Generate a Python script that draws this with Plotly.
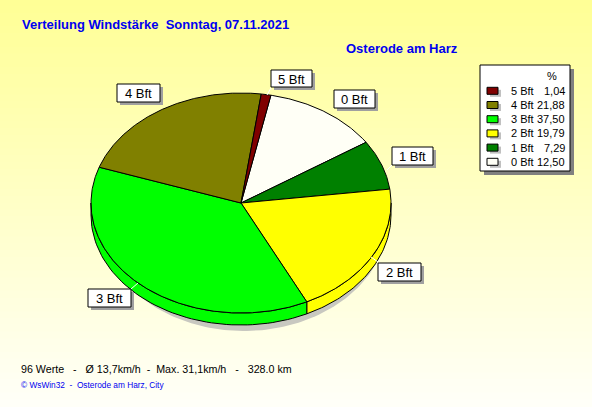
import numpy as np
import plotly.graph_objects as go

# ---- data ----
categories = ["0 Bft", "1 Bft", "2 Bft", "3 Bft", "4 Bft", "5 Bft"]
percent = [12.50, 7.29, 19.79, 37.50, 21.88, 1.04]
colors = ["#FFFFF6", "#008000", "#FFFF00", "#00FF00", "#808000", "#800000"]
title_text = "Verteilung Windstärke  Sonntag, 07.11.2021"
location = "Osterode am Harz"
stats_text = "96 Werte   -   Ø 13,7km/h  -  Max. 31,1km/h   -   328.0 km"
credit_text = "© WsWin32  -  Osterode am Harz, City"

W, H = 592, 407
CX, CY, RX, RY, DEPTH = 241, 203, 150, 110, 12
START = 78.5  # degrees, slices run clockwise

fig = go.Figure()

# background gradient (yellow -> near white)
shapes = []
n_bands = 60
for i in range(n_bands):
    f = i / (n_bands - 1)
    b = int(150 + (248 - 150) * f)
    shapes.append(dict(type="rect", xref="paper", yref="paper",
                       x0=0, x1=1, y0=1 - (i + 1) / n_bands, y1=1 - i / n_bands + 0.002,
                       fillcolor=f"rgb(255,255,{b})", line=dict(width=0), layer="below"))


def ell(t_deg, dy=0.0, rx=RX, ry=RY, cx=CX, cy=CY):
    t = np.radians(t_deg)
    return cx + rx * np.cos(t), cy - ry * np.sin(t) + dy


# shadow
tt = np.linspace(0, 360, 240)
sx, sy = ell(tt, cx=CX + 3, cy=CY + DEPTH + 4, rx=RX - 6, ry=RY + 2)
fig.add_trace(go.Scatter(x=sx, y=sy, fill="toself", fillcolor="#C8C8C0",
                         line=dict(width=0), mode="lines", hoverinfo="skip", showlegend=False))

# slice angles
bounds = []
a = START
for v in percent:
    a1 = a - 360.0 * v / 100.0
    bounds.append((a1, a))
    a = a1

# sides (front half: 180..360 deg)
for (lo, hi), col in zip(bounds, colors):
    for k in range(-2, 2):
        flo, fhi = 180 + 360 * k, 360 + 360 * k
        s0, s1 = max(lo, flo), min(hi, fhi)
        if s1 - s0 > 0.01:
            ts = np.linspace(s0, s1, 60)
            xt, yt = ell(ts)
            xb, yb = ell(ts[::-1], dy=DEPTH)
            fig.add_trace(go.Scatter(x=np.r_[xt, xb, xt[:1]], y=np.r_[yt, yb, yt[:1]],
                                     fill="toself", fillcolor=col, mode="lines",
                                     line=dict(color="black", width=1),
                                     hoverinfo="skip", showlegend=False))

# top faces
for (lo, hi), col, name, v in zip(bounds, colors, categories, percent):
    ts = np.linspace(hi, lo, max(8, int((hi - lo) * 2)))
    xa, ya = ell(ts)
    fig.add_trace(go.Scatter(x=np.r_[CX, xa, CX], y=np.r_[CY, ya, CY],
                             fill="toself", fillcolor=col, mode="lines",
                             line=dict(color="black", width=1),
                             name=name, text=f"{name}: {v:.2f} %", hoverinfo="text",
                             showlegend=False))

annotations = []
AF = "Liberation Sans, Arial, sans-serif"

# slice label boxes
label_boxes = {
    "5 Bft": (271, 70, 312, 87),
    "4 Bft": (117, 84, 160, 102),
    "0 Bft": (334, 90, 375, 108),
    "1 Bft": (392, 147, 433, 165),
    "2 Bft": (378, 263, 421, 281),
    "3 Bft": (88, 289, 131, 307),
}
leaders = {
    "5 Bft": ((271, 88), (267, 95)),
    "1 Bft": ((392, 165), (387, 170)),
    "2 Bft": ((378, 262), (371, 257)),
    "3 Bft": ((131, 289), (138, 283)),
}
for name, (x0, y0, x1, y1) in label_boxes.items():
    shapes.append(dict(type="rect", xref="x", yref="y", x0=x0 + 3, x1=x1 + 3, y0=y0 + 3, y1=y1 + 3,
                       fillcolor="#A0A0A0", line=dict(width=0)))
    shapes.append(dict(type="rect", xref="x", yref="y", x0=x0, x1=x1, y0=y0, y1=y1,
                       fillcolor="white", line=dict(color="black", width=1)))
    annotations.append(dict(x=(x0 + x1) / 2, y=(y0 + y1) / 2 + 0.5, xref="x", yref="y", text=name,
                            showarrow=False, font=dict(family=AF, size=13, color="black"),
                            xanchor="center", yanchor="middle"))
for name, ((ax, ay), (bx, by)) in leaders.items():
    shapes.append(dict(type="line", xref="x", yref="y", x0=ax, y0=ay, x1=bx, y1=by,
                       line=dict(color="white", width=1)))

# legend box
LX0, LY0, LX1, LY1 = 480, 65, 570, 171
shapes.append(dict(type="rect", xref="x", yref="y", x0=LX0 + 4, x1=LX1 + 4, y0=LY0 + 4, y1=LY1 + 4,
                   fillcolor="#808080", line=dict(width=0)))
shapes.append(dict(type="rect", xref="x", yref="y", x0=LX0, x1=LX1, y0=LY0, y1=LY1,
                   fillcolor="white", line=dict(color="black", width=1)))
annotations.append(dict(x=552, y=75.5, xref="x", yref="y", text="%", showarrow=False,
                        font=dict(family=AF, size=11, color="black"), xanchor="center", yanchor="middle"))
row_y0, row_dy = 90.8, 14.2
for j, idx in enumerate(reversed(range(len(categories)))):
    ry = row_y0 + j * row_dy
    shapes.append(dict(type="rect", xref="x", yref="y", x0=490, x1=501, y0=ry - 1, y1=ry + 6,
                       fillcolor="#C0C0C0", line=dict(width=0)))
    shapes.append(dict(type="rect", xref="x", yref="y", x0=487, x1=498, y0=ry - 3.5, y1=ry + 3.5,
                       fillcolor=colors[idx], line=dict(color="black", width=1)))
    annotations.append(dict(x=509, y=ry, xref="x", yref="y", text=categories[idx], showarrow=False,
                            font=dict(family=AF, size=11, color="black"), xanchor="left", yanchor="middle"))
    annotations.append(dict(x=567, y=ry, xref="x", yref="y",
                            text=f"{percent[idx]:.2f}".replace(".", ","), showarrow=False,
                            font=dict(family=AF, size=11, color="black"), xanchor="right", yanchor="middle"))

# texts
annotations.append(dict(x=20, y=24, xref="x", yref="y", text=f"<b>{title_text}</b>", showarrow=False,
                        font=dict(family=AF, size=13, color="#0000F0"), xanchor="left", yanchor="middle"))
annotations.append(dict(x=344, y=48, xref="x", yref="y", text=f"<b>{location}</b>", showarrow=False,
                        font=dict(family=AF, size=13, color="#0000F0"), xanchor="left", yanchor="middle"))
annotations.append(dict(x=19, y=369, xref="x", yref="y", text=stats_text.replace(" ", "&nbsp;"),
                        showarrow=False, font=dict(family=AF, size=10.7, color="black"),
                        xanchor="left", yanchor="middle"))
annotations.append(dict(x=19, y=385, xref="x", yref="y", text=credit_text.replace(" ", "&nbsp;"),
                        showarrow=False, font=dict(family=AF, size=8.3, color="#0000F0"),
                        xanchor="left", yanchor="middle"))

fig.update_layout(
    width=W, height=H, margin=dict(l=0, r=0, t=0, b=0),
    paper_bgcolor="#FFFFCC", plot_bgcolor="rgba(0,0,0,0)",
    xaxis=dict(range=[0, W], visible=False, fixedrange=True),
    yaxis=dict(range=[H, 0], visible=False, fixedrange=True),
    shapes=shapes, annotations=annotations, showlegend=False,
)
fig.write_html("out.html", config={"displayModeBar": False},
               post_script="document.body.style.margin='0';document.body.style.overflow='hidden';")
